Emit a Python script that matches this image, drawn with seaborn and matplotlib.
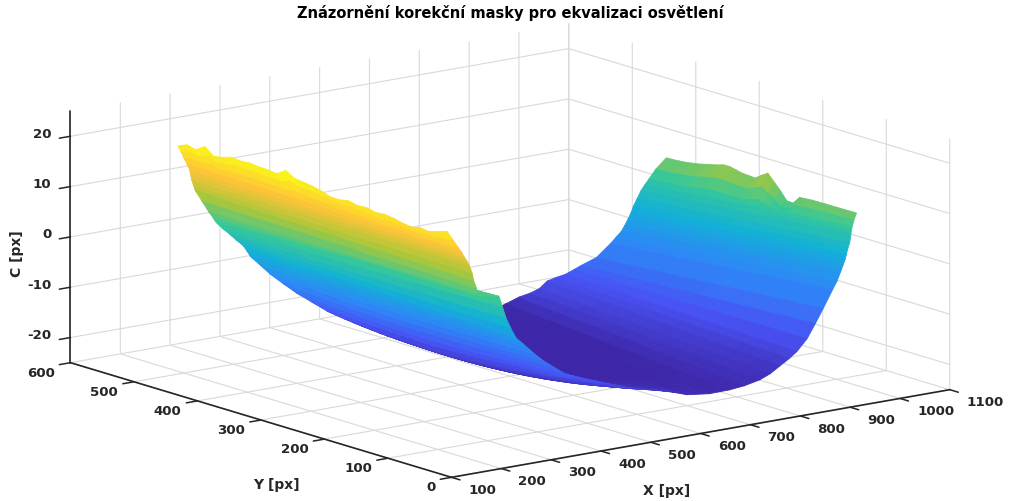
import numpy as np
import matplotlib
matplotlib.use("Agg")
import matplotlib.pyplot as plt
from matplotlib.transforms import ScaledTranslation
import seaborn as sns

TITLE = "Znázornění korekční masky pro ekvalizaci osvětlení"
x_ticks = list(range(100, 1101, 100))
y_ticks = list(range(0, 601, 100))
z_ticks = [-20, -10, 0, 10, 20]

# iso-level stations across the mask: front edge, back edge, sag of the middle
x_front = [257,264,271,277,282,289,295,298,300,303,
           305,317,329,336,342,353,365,371,377,382,
           388,396,405,417,430,445,461,
           491,518,556,588,630,672,702,738,770,805,
           826,844,890,922,953,1009,1033,1057,1064,1071,
           1075,1079,1084,1089,1091,1093,1093,1090]
y_front = [130,127,124,123,123,124,125,123,122,120,
           118,110,105,105,104,105,106,100,95,88,
           80,70,61,55,50,42,35,
           26,17,15,11,10,11,11,15,24,36,
           38,40,60,72,84,113,125,138,140,142,
           143,144,145,147,148,148,145,139]
z_front = [16,14.5,13,12,11,10,9,7.5,6,4.5,
           3,3,3,.8,-1.5,-3.8,-6,-7,-8,-9,
           -10,-11,-12,-12.5,-13,-13.5,-14,
           -15,-15.5,-16.5,-17.5,-18,-18,-17.7,-17.3,-17,-16.5,
           -15.5,-14.5,-13.5,-11.5,-9.5,-7.8,-7,-6,-5,-4,
           -3,-2,-1,.5,1.2,2,3.5,5]
x_back = [280,280,279,279,278,280,281,283,285,290,
          295,299,303,307,312,318,325,328,330,338,
          345,353,362,375,388,405,421,
          450,500,600,670,720,750,765,775,790,815,
          830,845,858,870,890,935,952,970,978,987,
          997,1007,1022,1037,1046,1056,1065,1082]
y_back = [572,567,562,557,552,552,551,550,549,542,
          535,532,530,523,515,510,505,501,497,488,
          478,464,450,436,422,409,396,
          400,400,410,415,420,425,415,405,403,410,
          408,405,402,400,392,405,410,415,416,418,
          421,425,431,437,438,439,435,432]
z_back = [16,15,14,13,12,11,10,9,8,6,
          4,3,2,1,0,-1,-2,-3,-4,-5.5,
          -7,-8.5,-10,-11.5,-13,-14,-15,
          -16.5,-17.5,-18,-18.5,-18.5,-18,-16.5,-15.5,-14.8,-14,
          -13.5,-13,-12.2,-11.5,-10,-8.5,-7.8,-7,-6,-5,
          -4,-3,-2,-1,0,1,3,5]
z_sag = [0,0,0,0,0,0,0,0,0,0,
         0,0,0,0,0,0,0,.2,.5,.7,
         1,1.2,1.5,2,2.5,2.5,2.5,
         2.5,2.5,2,1,.5,0,0,0,0,0,
         0,0,0,0,0,0,0,0,0,0,
         0,0,0,0,0,0,0,0]

# roughness of the two free upper edges, front to back
left_edge = [.2,-.4,-1,-.8,-1.2,-1,-.6,-.4,-.6,-.2,-.4,0,-.4,-.4,.2,.6,.8,1,2,.8,1,1,1.2,1,1.2,.6,.2,1.6,.4,.8,0]
right_edge = [0,0,0,0,0,0,0,0,-.1,-.2,-1.7,-1.6,0,1.4,2.8,2,1.1,1.2,1.3,1.6,1.9,1.9,1.5,1.2,.9,.6,.4,.2,.1,0,0]

parula = [(0.2422,0.1504,0.6603),(0.2810,0.3228,0.9579),(0.1786,0.5289,0.9682),(0.0689,0.6948,0.8394),
          (0.2161,0.7843,0.5923),(0.6720,0.7793,0.2227),(0.9970,0.7659,0.2199),(0.9769,0.9839,0.0805)]

sns.set_theme(style="white", font="DejaVu Sans")
plt.rcParams["font.weight"] = "bold"
plt.rcParams["axes.unicode_minus"] = False
cmap = sns.blend_palette(parula, as_cmap=True)

fig = plt.figure(figsize=(10.09, 5.01), dpi=100)
S = 897
cx, cy = 498, 262.5
ax = fig.add_axes([(cx - S/2)/1009, (501 - cy - S/2)/501, S/1009, S/501], projection="3d")
ax.set_proj_type("ortho")
ax.view_init(elev=13.3, azim=-127.4)
ax.set_box_aspect((626, 626, 258))
ax.patch.set_alpha(0)

t = np.linspace(0, 1, len(left_edge))[None, :]
xf, yf, zf = [np.array(a, float)[:, None] for a in (x_front, y_front, z_front)]
xb, yb, zb = [np.array(a, float)[:, None] for a in (x_back, y_back, z_back)]
sag = np.array(z_sag)[:, None]
X = xf + (xb - xf)*t
Y = yf + (yb - yf)*t
Z = zf + (zb - zf)*t - sag*4*t*(1 - t)
for i, w in enumerate((1, .6, .3)):
    Z[i] += w*np.array(left_edge)
for i, w in enumerate((1, .7, .4, .2)):
    Z[-1 - i] += w*np.array(right_edge)

surf = ax.plot_surface(X, Y, Z, cmap=cmap, vmin=-18.5, vmax=17.5, rstride=1, cstride=1,
                       shade=False, linewidth=0.6, antialiased=True)
surf.set_edgecolor("face")

ax.set_xlim(100, 1100)
ax.set_ylim(0, 600)
ax.set_zlim(-25, 25)
ax.set_xticks(x_ticks)
ax.set_yticks(y_ticks)
ax.set_zticks(z_ticks)
for axis in (ax.xaxis, ax.yaxis, ax.zaxis):
    axis.set_pane_color((1, 1, 1, 0))
    axis.pane.set_edgecolor((1, 1, 1, 0))
    axis.line.set_color("#262626")
    axis.line.set_linewidth(1.2)
    axis._axinfo["grid"].update(color="#d9d9d9", linewidth=0.8)
    axis._axinfo["tick"].update(inward_factor=0, outward_factor=-0.28, linewidth={True: 1.1, False: 1.1}, color="#262626")
ax.tick_params(labelsize=9.6, colors="#262626", pad=0)

px = 1/100
shifts = {"x": ("left", 8, 2), "y": ("right", -4, 4), "z": ("right", 2, 8)}
for name, labels in (("x", ax.get_xticklabels()), ("y", ax.get_yticklabels()), ("z", ax.get_zticklabels())):
    ha, dx, dy = shifts[name]
    for lab in labels:
        lab.set_ha(ha)
        lab.set_transform(ax.transData + ScaledTranslation(dx*px, dy*px, fig.dpi_scale_trans))
        # mplot3d resets the label transform when drawing; keep the offset one
        lab.set_transform = lambda _trans: None

fig.text(510/1009, 1 - 13/501, TITLE, ha="center", va="center", fontsize=10.5, fontweight="bold", color="black")
fig.text(667/1009, 1 - 491/501, "X [px]", ha="center", va="center", fontsize=10, fontweight="bold", color="#262626")
fig.text(276/1009, 1 - 485/501, "Y [px]", ha="center", va="center", fontsize=10, fontweight="bold", color="#262626")
fig.text(17/1009, 1 - 254/501, "C [px]", ha="center", va="center", rotation=90, fontsize=10, fontweight="bold", color="#262626")

fig.savefig("out.png", dpi=100)
